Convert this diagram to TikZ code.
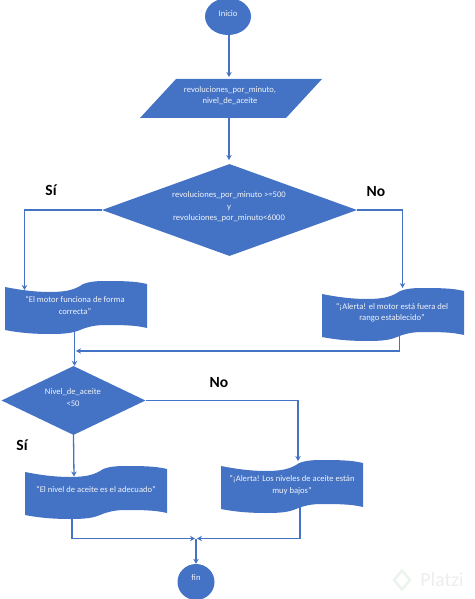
\documentclass[tikz,border=0pt]{standalone}
\usepackage{fontspec}
\setmainfont{Carlito}
\usetikzlibrary{arrows.meta,shapes.geometric,calc}
\definecolor{fc}{HTML}{4472C4}
\tikzset{
  x=1pt,y=-1pt,
  conn/.style={draw=fc,line width=1.3pt,-{Stealth[length=5pt,width=5.5pt]}},
  txt/.style={text=white!92!fc,font=\fontsize{8.6}{11.5}\selectfont,align=center,inner sep=0pt},
  lab/.style={text=black,font=\fontsize{15.5}{18}\selectfont\bfseries,inner sep=0pt},
  terminal/.style={ellipse,fill=fc,inner sep=0pt,minimum width=46pt,minimum height=37pt},
  decision/.style={diamond,fill=fc,inner sep=0pt},
  inputbox/.style={rectangle,inner sep=0pt,minimum width=182pt,minimum height=39pt},
  docbox/.style={rectangle,inner sep=0pt,minimum width=142pt,minimum height=53pt},
  inputpic/.pic={\fill[fc] (-55,-19.5) -- (91,-19.5) -- (55,19.5) -- (-91,19.5) -- cycle;},
  docpic/.pic={\fill[fc,shift={(-71,-26.5)}]
      (0,6) .. controls (15,9) and (30,11) .. (45,11) .. controls (60,11) and (68,9) .. (75,5)
      .. controls (80,1) and (90,0) .. (100,0) .. controls (115,0) and (130,0) .. (142,3)
      -- (142,47) .. controls (130,44) and (115,44) .. (100,44) .. controls (90,44) and (82,46) .. (75,49)
      .. controls (68,52) and (60,53) .. (45,53) .. controls (30,53) and (15,52) .. (0,49) -- cycle;},
}
\begin{document}
\begin{tikzpicture}
\useasboundingbox (0,0) rectangle (474,599);
% shapes
\node[terminal] (inicio) at (228,16.5) {};
\node[txt] (inicioT) at (228,14) {Inicio};
\node[inputbox] (entrada) at (231,98.5) {};
\pic at (entrada.center) {inputpic};
\node[txt] (entradaT) at (230,95.5) {revoluciones\_por\_minuto,\\nivel\_de\_aceite};
\node[decision,minimum width=255pt,minimum height=92pt,aspect=2.77] (dec1) at (229.5,210) {};
\node[txt] (dec1T) at (229,207) {revoluciones\_por\_minuto >=500\\y\\revoluciones\_por\_minuto<6000};
\node[docbox] (doc1) at (76,307.5) {};
\pic at (doc1.center) {docpic};
\node[txt] (doc1T) at (75,305.5) {“El motor funciona de forma\\correcta”};
\node[docbox] (doc2) at (393,314.5) {};
\pic at (doc2.center) {docpic};
\node[txt] (doc2T) at (392,312.5) {“¡Alerta! el motor está fuera del\\rango establecido”};
\node[decision,minimum width=144pt,minimum height=69pt,aspect=2.09] (dec2) at (73.5,400.5) {};
\node[txt] (dec2T) at (73,397.5) {Nivel\_de\_aceite\\<50};
\node[docbox] (doc3) at (96,492.5) {};
\pic at (doc3.center) {docpic};
\node[txt] (doc3T) at (96,489) {“El nivel de aceite es el adecuado”};
\node[docbox] (doc4) at (292,486.5) {};
\pic at (doc4.center) {docpic};
\node[txt] (doc4T) at (292,485) {“¡Alerta! Los niveles de aceite están\\muy bajos”};
\node[terminal,minimum width=37pt,minimum height=36pt] (fin) at (196,582) {};
\node[txt] (finT) at (196,578) {fin};
% labels
\node[lab] (si1) at (51,190) {Sí};
\node[lab] (no1) at (376,192) {No};
\node[lab] (no2) at (219,383) {No};
\node[lab] (si2) at (22,445) {Sí};
% watermark
\node[text=black!7,font=\fontsize{20}{20}\selectfont,inner sep=0pt] (platzi) at (442,580) {Platzi};
\node[diamond,draw=green!30!black!7,line width=2.5pt,minimum width=17pt,minimum height=20pt,inner sep=0pt] (logo) at (402,580) {};
% connector ends
\coordinate (doc1in) at (24.5,290);
\coordinate (doc2in) at (402.5,288);
\coordinate (doc1out) at (74.5,327);
\coordinate (doc2out) at (399.5,334);
\coordinate (doc3in) at (74,476.5);
\coordinate (doc3out) at (72,518);
\coordinate (doc4in) at (298,461);
\coordinate (doc4out) at (300,504);
\coordinate (merge1) at (76,351);
\coordinate (mergeL) at (195,538.5);
\coordinate (mergeR) at (197,538.5);
\coordinate (merge2) at (196,538.5);
% connectors
\draw[conn] (inicio.south) ++(1,0) -- (229,77);
\draw[conn] (entrada.south) ++(-2,0) -- (229,160);
\draw[conn] (dec1.west) -| (doc1in);
\draw[conn] (dec1.east) -| (doc2in);
\draw[conn] (doc1out) -- (dec2.north -| doc1out);
\draw[conn] (doc2out) |- (merge1);
\draw[conn] (dec2.east) -| (doc4in);
\draw[conn] (dec2.south) -- (doc3in);
\draw[conn] (doc3out) |- (mergeL);
\draw[conn] (doc4out) |- (mergeR);
\draw[conn] (merge2) -- (fin.north);
\end{tikzpicture}
\end{document}
